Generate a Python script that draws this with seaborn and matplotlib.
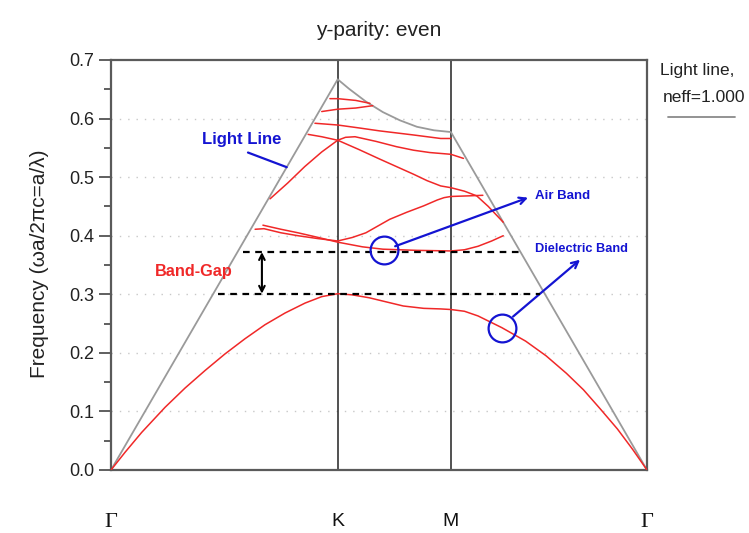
import matplotlib
matplotlib.use("Agg")
import matplotlib.pyplot as plt
from matplotlib.ticker import MultipleLocator
from matplotlib.lines import Line2D
import seaborn as sns

# high-symmetry points along the k-path (units of 2*pi/a)
sym_names = ["Γ", "K", "M", "Γ"]
sym_pos = [0.0, 0.667, 1.0, 1.577]

# light line, neff = 1.000
light_k = [0.0, 0.667, 0.70, 0.75, 0.80, 0.85, 0.90, 0.95, 1.0, 1.577]
light_f = [0.0, 0.667, 0.651, 0.629, 0.611, 0.597, 0.586, 0.580, 0.577, 0.0]

# dielectric band (lowest band)
diel_k = [0.0, 0.041, 0.090, 0.159, 0.218, 0.277, 0.335, 0.394, 0.453, 0.512,
          0.571, 0.62, 0.667, 0.71, 0.76, 0.81, 0.86, 0.92, 0.97, 1.0,
          1.04, 1.08, 1.15, 1.22, 1.28, 1.34, 1.39, 1.44, 1.49, 1.535, 1.577]
diel_f = [0.0, 0.030, 0.064, 0.107, 0.140, 0.170, 0.198, 0.224, 0.248, 0.268,
          0.285, 0.296, 0.301, 0.299, 0.294, 0.287, 0.280, 0.276, 0.275, 0.274,
          0.271, 0.263, 0.243, 0.220, 0.195, 0.165, 0.137, 0.104, 0.070, 0.035, 0.0]

# higher bands below the light line
air1_k = [0.447, 0.50, 0.55, 0.61, 0.667, 0.74, 0.80, 0.90, 1.0, 1.04, 1.08, 1.12, 1.154]
air1_f = [0.418, 0.411, 0.405, 0.397, 0.389, 0.381, 0.377, 0.375, 0.374, 0.376, 0.382, 0.391, 0.400]

air2_k = [0.424, 0.45, 0.50, 0.55, 0.61, 0.667, 0.71, 0.75, 0.82, 0.87, 0.92, 0.96, 0.98, 1.0, 1.05, 1.094]
air2_f = [0.411, 0.412, 0.405, 0.400, 0.395, 0.391, 0.397, 0.405, 0.428, 0.440, 0.451, 0.461, 0.465, 0.467, 0.468, 0.469]

air3_k = [0.468, 0.52, 0.57, 0.62, 0.667, 0.69, 0.718, 0.78, 0.84, 0.89, 0.938, 1.0, 1.037]
air3_f = [0.463, 0.490, 0.518, 0.543, 0.563, 0.568, 0.569, 0.561, 0.552, 0.546, 0.542, 0.539, 0.532]

air4_k = [0.58, 0.62, 0.667, 0.73, 0.79, 0.84, 0.89, 0.93, 0.97, 1.0, 1.04, 1.076, 1.11, 1.154]
air4_f = [0.573, 0.569, 0.563, 0.547, 0.531, 0.518, 0.505, 0.494, 0.485, 0.482, 0.476, 0.468, 0.450, 0.423]

air5_k = [0.60, 0.667, 0.73, 0.79, 0.89, 0.97, 1.0]
air5_f = [0.592, 0.589, 0.584, 0.579, 0.572, 0.566, 0.566]

air6_k = [0.62, 0.667, 0.72, 0.77]
air6_f = [0.612, 0.616, 0.618, 0.622]

air7_k = [0.644, 0.667, 0.72, 0.762]
air7_f = [0.634, 0.634, 0.631, 0.626]

band_k = [diel_k, air1_k, air2_k, air3_k, air4_k, air5_k, air6_k, air7_k]
band_f = [diel_f, air1_f, air2_f, air3_f, air4_f, air5_f, air6_f, air7_f]

# photonic band gap edges
gap_low = 0.301
gap_high = 0.372
gap_low_span = [0.316, 1.262]
gap_high_span = [0.389, 1.208]

y_ticks = [0.0, 0.1, 0.2, 0.3, 0.4, 0.5, 0.6, 0.7]
grid_levels = [0.1, 0.2, 0.3, 0.4, 0.5, 0.6]

sns.set_style("white")
plt.rcParams["font.family"] = ["Liberation Sans", "DejaVu Sans"]

fig = plt.figure(figsize=(7.49, 5.33), dpi=100)
ax = fig.add_axes([111 / 749, 63 / 533, 536 / 749, 410 / 533])

for g in grid_levels:
    ax.axhline(g, color="#c8c8c8", lw=1.0, ls=(0, (1, 5)), zorder=0)

for x in sym_pos[1:3]:
    ax.axvline(x, color="#222222", lw=1.1, zorder=1)

sns.lineplot(x=light_k, y=light_f, ax=ax, color="#9a9a9a", lw=1.3,
             sort=False, estimator=None, zorder=2)

red = "#f02828"
for k, f in zip(band_k, band_f):
    sns.lineplot(x=k, y=f, ax=ax, color=red, lw=1.1, sort=False,
                 estimator=None, zorder=3)

# band-gap edges and the arrow between them
ax.plot(gap_low_span, [gap_low, gap_low], color="black", lw=1.6,
        ls=(0, (3, 2.5)), zorder=4)
ax.plot(gap_high_span, [gap_high, gap_high], color="black", lw=1.6,
        ls=(0, (3, 2.5)), zorder=4)
ax.annotate("", xy=(0.444, gap_high), xytext=(0.444, gap_low),
            arrowprops=dict(arrowstyle="<->", color="black", lw=1.5,
                            mutation_scale=10, shrinkA=0, shrinkB=0))
ax.text(0.244, 0.339, "Band-Gap", color=red, fontsize=11.7, fontweight="bold",
        ha="center", va="center")

blue = "#1414d2"
# light line label
ax.text(0.385, 0.565, "Light Line", color=blue, fontsize=12,
        fontweight="bold", ha="center", va="center")
ax.plot([0.403, 0.517], [0.542, 0.517], color=blue, lw=1.6)

# air band marker
ax.plot([0.803], [0.375], marker="o", ms=20, mfc="none", mec=blue, mew=1.6,
        ls="none", zorder=5)
ax.annotate("", xy=(1.227, 0.465), xytext=(0.836, 0.382),
            arrowprops=dict(arrowstyle="->", color=blue, lw=1.6,
                            mutation_scale=12, shrinkA=0, shrinkB=0))
ax.text(1.247, 0.467, "Air Band", color=blue, fontsize=9.5,
        fontweight="bold", ha="left", va="center")

# dielectric band marker
ax.plot([1.150], [0.243], marker="o", ms=20, mfc="none", mec=blue, mew=1.6,
        ls="none", zorder=5)
ax.annotate("", xy=(1.380, 0.359), xytext=(1.183, 0.262),
            arrowprops=dict(arrowstyle="->", color=blue, lw=1.6,
                            mutation_scale=12, shrinkA=0, shrinkB=0))
ax.text(1.247, 0.378, "Dielectric Band", color=blue, fontsize=9.2,
        fontweight="bold", ha="left", va="center")

ax.set_xlim(sym_pos[0], sym_pos[-1])
ax.set_ylim(0, 0.7)
ax.set_yticks(y_ticks)
ax.set_yticklabels([f"{v:.1f}" for v in y_ticks])
ax.yaxis.set_minor_locator(MultipleLocator(0.05))
ax.tick_params(axis="y", which="major", left=True, length=9, width=1.2,
               color="#444444", labelsize=13, pad=3, labelcolor="#222222")
ax.tick_params(axis="y", which="minor", left=True, length=5, width=1.2,
               color="#444444")

ax.set_xticks(sym_pos)
ax.set_xticklabels(sym_names)
ax.tick_params(axis="x", length=0, pad=31, labelsize=14, labelcolor="#111111")
for lab, name in zip(ax.get_xticklabels(), sym_names):
    if name == "Γ":
        lab.set_fontfamily(["Liberation Serif", "DejaVu Serif"])
        lab.set_fontsize(16)

for side, sp in ax.spines.items():
    sp.set_color("#5a5a5a")
    sp.set_linewidth(1.6)

ax.set_xlabel("")
ax.set_ylabel("")
fig.text(40 / 749, 1 - 264 / 533, "Frequency (ωa/2πc=a/λ)", rotation=90,
         ha="center", va="center", fontsize=15, color="#222222")

ax.text(0.5, 1 + 30 / 410, "y-parity: even", transform=ax.transAxes,
        ha="center", va="center", fontsize=15, color="#222222")

# legend entry for the light line
fig.text(660 / 749, 1 - 70 / 533, "Light line,", fontsize=12.5, ha="left",
         va="center", color="#222222")
fig.text(663 / 749, 1 - 98 / 533, "neff=1.000", fontsize=12.5, ha="left",
         va="center", color="#222222")
fig.add_artist(Line2D([668 / 749, 735 / 749], [1 - 117 / 533, 1 - 117 / 533],
                      color="#8a8a8a", lw=1.3))

fig.savefig("out.png", dpi=100)
